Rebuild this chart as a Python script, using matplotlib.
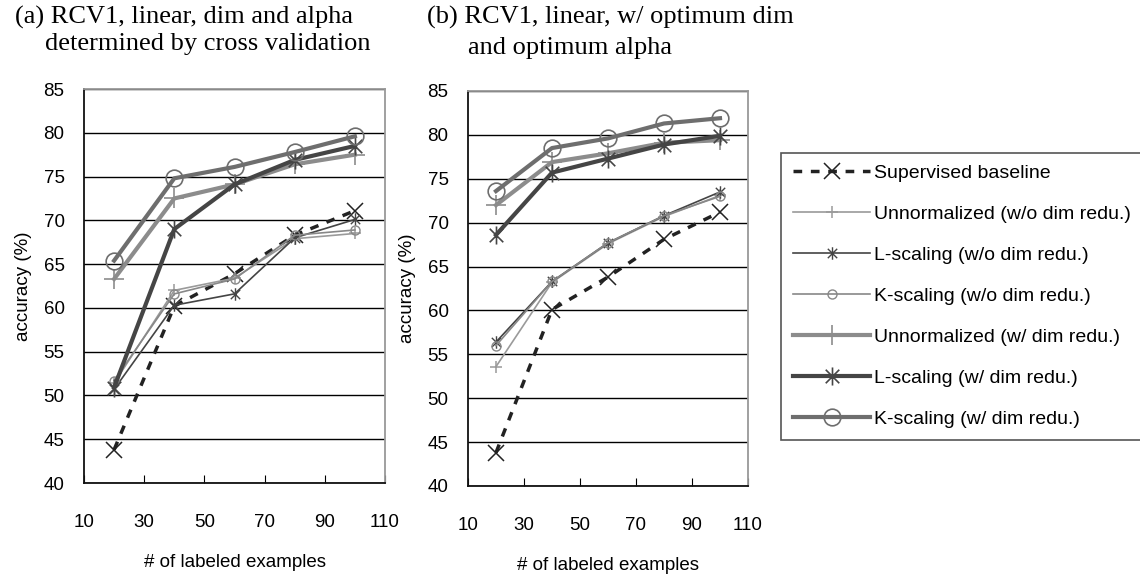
import matplotlib
matplotlib.use("Agg")
import matplotlib.pyplot as plt
from matplotlib.path import Path

# number of labeled examples
n_labeled = [20, 40, 60, 80, 100]

# (a) dim and alpha by cross validation
a_supervised = [43.8, 60.2, 63.9, 68.3, 71.1]
a_unnorm_wo = [51.4, 62.0, 63.4, 67.9, 68.5]
a_lscale_wo = [50.7, 60.3, 61.6, 68.0, 70.1]
a_kscale_wo = [51.7, 61.6, 63.3, 68.3, 68.9]
a_unnorm_w = [63.3, 72.5, 74.1, 76.4, 77.5]
a_lscale_w = [50.9, 69.0, 74.1, 76.9, 78.5]
a_kscale_w = [65.4, 74.8, 76.1, 77.8, 79.6]

# (b) optimum dim and alpha
b_supervised = [43.8, 60.1, 63.8, 68.1, 71.2]
b_unnorm_wo = [53.6, 63.2, 67.6, 70.7, 73.1]
b_lscale_wo = [56.4, 63.3, 67.7, 70.8, 73.5]
b_kscale_wo = [56.0, 63.3, 67.7, 70.8, 73.0]
b_unnorm_w = [72.0, 76.9, 77.9, 79.1, 79.4]
b_lscale_w = [68.6, 75.7, 77.3, 78.9, 79.9]
b_kscale_w = [73.6, 78.5, 79.6, 81.3, 81.9]

labels = ["Supervised baseline",
          "Unnormalized (w/o dim redu.)",
          "L-scaling (w/o dim redu.)",
          "K-scaling (w/o dim redu.)",
          "Unnormalized (w/ dim redu.)",
          "L-scaling (w/ dim redu.)",
          "K-scaling (w/ dim redu.)"]

# excel-like star: vertical bar plus an x
star = Path([(0, -1), (0, 1), (-0.75, -0.75), (0.75, 0.75), (-0.75, 0.75), (0.75, -0.75)],
            [Path.MOVETO, Path.LINETO] * 3)

plt.rcParams['font.family'] = ["Liberation Sans", "DejaVu Sans"]

styles = [
    dict(color="#222222", lw=2.5, ls=(0, (2.5, 2.5)), marker="x", ms=11, mew=1.1),
    dict(color="#9a9a9a", lw=1.2, marker="+", ms=9, mew=1.1),
    dict(color="#444444", lw=1.2, marker=star, ms=9, mew=1.0),
    dict(color="#888888", lw=1.2, marker="o", ms=6.5, mew=1.0, mfc="none"),
    dict(color="#8c8c8c", lw=3.0, marker="+", ms=15, mew=1.2),
    dict(color="#454545", lw=3.0, marker=star, ms=13, mew=1.2),
    dict(color="#6e6e6e", lw=3.0, marker="o", ms=12, mew=1.2, mfc="none"),
]

fig = plt.figure(figsize=(11.4, 5.79), dpi=100)
ax1 = fig.add_axes([84 / 1140, 1 - 483 / 579, 301 / 1140, 394 / 579])
ax2 = fig.add_axes([468 / 1140, 1 - 486 / 579, 280 / 1140, 395 / 579])

panels = [
    (ax1, [a_supervised, a_unnorm_wo, a_lscale_wo, a_kscale_wo, a_unnorm_w, a_lscale_w, a_kscale_w]),
    (ax2, [b_supervised, b_unnorm_wo, b_lscale_wo, b_kscale_wo, b_unnorm_w, b_lscale_w, b_kscale_w]),
]

handles = []
for ax, series in panels:
    handles = []
    for vals, st, lab in zip(series, styles, labels):
        h, = ax.plot(n_labeled, vals, label=lab, mec=st["color"], **st)
        handles.append(h)
    ax.set_xlim(10, 110)
    ax.set_ylim(40, 85)
    ax.set_xticks(range(10, 111, 20))
    ax.set_yticks(range(40, 86, 5))
    ax.yaxis.grid(True, color="black", lw=1)
    ax.set_axisbelow(True)
    ax.tick_params(axis="x", direction="in", length=6, pad=22, labelsize=13.5)
    ax.tick_params(axis="y", length=0, pad=14, labelsize=13.5)
    for s in ["left", "bottom"]:
        ax.spines[s].set_color("#111111")
        ax.spines[s].set_linewidth(1.3)
    for s in ["top", "right"]:
        ax.spines[s].set_color("#999999")
        ax.spines[s].set_linewidth(1.3)
    ax.set_ylabel("accuracy (%)", fontsize=13.5, labelpad=8)
    ax.set_xlabel("# of labeled examples", fontsize=13.5, labelpad=17)

serif = dict(family="Liberation Serif", fontsize=19, va="top", ha="left")
fig.text(15 / 1140, 1 - 6 / 579, "(a) RCV1, linear, dim and alpha", **serif)
fig.text(45 / 1140, 1 - 33 / 579, "determined by cross validation", **serif)
fig.text(427 / 1140, 1 - 6 / 579, "(b) RCV1, linear, w/ optimum dim", **serif)
fig.text(468 / 1140, 1 - 37 / 579, "and optimum alpha", **serif)

leg = fig.legend(handles=handles, loc="upper left", bbox_to_anchor=(781 / 1140, 1 - 153 / 579),
                 borderaxespad=0, fontsize=14, handlelength=4.0, labelspacing=1.2,
                 handletextpad=0.2, fancybox=False, framealpha=1, borderpad=0.6)
leg.get_frame().set_edgecolor("#555555")
leg.get_frame().set_linewidth(1.2)

fig.savefig("out.png", dpi=100)
